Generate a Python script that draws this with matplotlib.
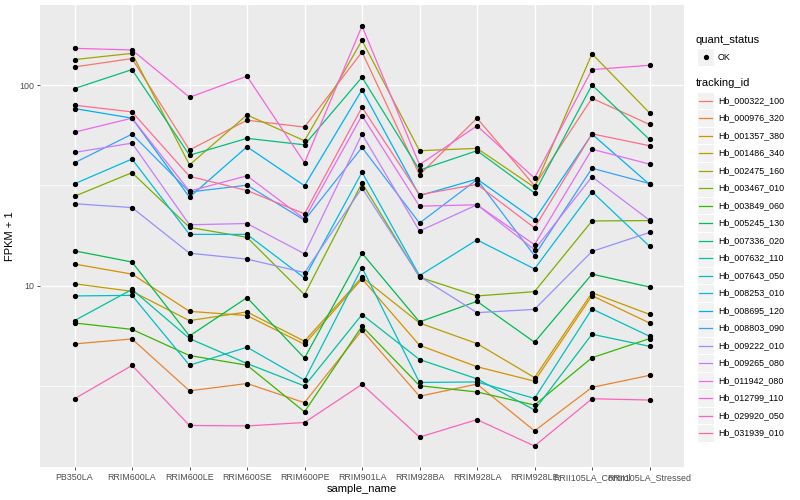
import numpy as np
import matplotlib
matplotlib.use('Agg')
import matplotlib.pyplot as plt
from matplotlib.lines import Line2D
from matplotlib.patches import Rectangle
from matplotlib.ticker import FixedLocator, NullFormatter

plt.rcParams['font.family'] = ['Liberation Sans', 'DejaVu Sans']

# ---- data (FPKM + 1) ----
samples = ['PB350LA', 'RRIM600LA', 'RRIM600LE', 'RRIM600SE', 'RRIM600PE', 'RRIM901LA',
           'RRIM928BA', 'RRIM928LA', 'RRIM928LE', 'RRII105LA_Control', 'RRII105LA_Stressed']

tracking_ids = ['Hb_000322_100', 'Hb_000976_320', 'Hb_001357_380', 'Hb_001486_340',
                'Hb_002475_160', 'Hb_003467_010', 'Hb_003849_060', 'Hb_005245_130',
                'Hb_007336_020', 'Hb_007632_110', 'Hb_007643_050', 'Hb_008253_010',
                'Hb_008695_120', 'Hb_008803_090', 'Hb_009222_010', 'Hb_009265_080',
                'Hb_011942_080', 'Hb_012799_110', 'Hb_029920_050', 'Hb_031939_010']

# ggplot default hue palette for 20 levels
palette = ['#F8766D', '#EA8331', '#D89000', '#C09B00', '#A3A500', '#7CAE00', '#39B600',
           '#00BB4E', '#00BF7D', '#00C1A3', '#00BFC4', '#00BAE0', '#00B0F6', '#35A2FF',
           '#9590FF', '#C77CFF', '#E76BF3', '#FA62DB', '#FF62BC', '#FF6C91']

Hb_000322_100 = [123.4, 135.9, 47.5, 66.9, 61.8, 146.5, 35.7, 68.5, 31.5, 86.1, 63.7]
Hb_000976_320 = [5.11, 5.41, 2.98, 3.24, 2.60, 5.98, 2.80, 3.22, 1.88, 3.10, 3.56]
Hb_001357_380 = [12.8, 11.4, 7.43, 7.08, 5.09, 10.8, 5.03, 3.93, 3.33, 8.9, 6.5]
Hb_001486_340 = [10.2, 9.35, 6.68, 7.38, 5.27, 11.0, 6.5, 5.13, 3.47, 9.2, 7.18]
Hb_002475_160 = [134.3, 144.3, 40.0, 71.1, 52.8, 167.5, 47.1, 48.4, 30.9, 143.6, 72.8]
Hb_003467_010 = [27.9, 36.6, 19.5, 17.4, 9.0, 32.5, 11.0, 8.87, 9.32, 21.0, 21.1]
Hb_003849_060 = [6.5, 6.04, 4.47, 4.0, 2.34, 6.26, 3.16, 2.94, 2.53, 4.36, 5.43]
Hb_005245_130 = [14.9, 13.1, 5.6, 8.70, 4.34, 14.5, 6.58, 8.34, 5.21, 11.4, 9.83]
Hb_007336_020 = [96.3, 119.7, 44.7, 54.3, 50.4, 109.6, 37.7, 47.1, 29.0, 100.3, 53.6]
Hb_007632_110 = [6.68, 9.56, 5.43, 4.08, 3.15, 7.16, 4.27, 3.42, 2.39, 5.71, 4.97]
Hb_007643_050 = [8.87, 8.93, 4.0, 4.92, 3.37, 12.3, 3.28, 3.3, 2.73, 7.64, 5.58]
Hb_008253_010 = [32.2, 42.8, 18.0, 18.0, 10.9, 36.8, 11.2, 16.9, 12.1, 29.4, 15.7]
Hb_008695_120 = [76.5, 68.5, 27.6, 49.3, 31.5, 94.9, 28.1, 34.0, 21.3, 57.0, 32.0]
Hb_008803_090 = [41.0, 57.0, 29.3, 31.7, 21.2, 48.9, 20.5, 33.8, 14.1, 38.5, 32.3]
Hb_009222_010 = [25.6, 24.5, 14.5, 13.55, 11.6, 30.7, 11.1, 7.32, 7.60, 14.8, 18.4]
Hb_009265_080 = [46.2, 51.4, 20.1, 20.4, 14.4, 57.0, 18.7, 25.3, 15.1, 34.9, 21.2]
Hb_011942_080 = [58.3, 68.5, 29.6, 35.3, 21.5, 70.6, 24.9, 25.3, 16.0, 47.9, 40.4]
Hb_012799_110 = [152.8, 150.0, 87.1, 110.9, 41.0, 197.6, 40.1, 62.7, 34.4, 119.7, 125.8]
Hb_029920_050 = [2.72, 3.99, 2.0, 1.99, 2.07, 3.21, 1.75, 2.14, 1.58, 2.72, 2.68]
Hb_031939_010 = [79.5, 73.6, 35.1, 29.8, 22.8, 77.6, 28.4, 32.0, 19.4, 57.2, 49.9]

series = [Hb_000322_100, Hb_000976_320, Hb_001357_380, Hb_001486_340, Hb_002475_160,
          Hb_003467_010, Hb_003849_060, Hb_005245_130, Hb_007336_020, Hb_007632_110,
          Hb_007643_050, Hb_008253_010, Hb_008695_120, Hb_008803_090, Hb_009222_010,
          Hb_009265_080, Hb_011942_080, Hb_012799_110, Hb_029920_050, Hb_031939_010]

# ---- figure ----
W, H = 800, 500
fig = plt.figure(figsize=(8, 5), dpi=100)
fig.set_facecolor('white')
ax = fig.add_axes([40 / W, 1 - 467 / H, (684 - 40) / W, (467 - 5) / H])
ax.set_facecolor('#EBEBEB')

x = np.arange(len(samples))
for k, vals in enumerate(series):
    ax.plot(x, vals, color=palette[k], linewidth=0.9, zorder=2 + k * 0.01)
for vals in series:
    ax.plot(x, vals, linestyle='none', marker='o', markersize=2.8,
            color='black', zorder=3)

ax.set_yscale('log')
allv = np.concatenate([np.array(s) for s in series])
lo, hi = np.log10(allv.min()), np.log10(allv.max())
pad = (hi - lo) * 0.05
ax.set_ylim(10 ** (lo - pad), 10 ** (hi + pad))
ax.set_xlim(-0.6, len(samples) - 1 + 0.6)

ax.yaxis.set_major_locator(FixedLocator([10, 100]))
ax.yaxis.set_minor_locator(FixedLocator([10 ** 0.5, 10 ** 1.5]))
ax.yaxis.set_minor_formatter(NullFormatter())
ax.set_yticklabels(['10', '100'])
ax.set_xticks(x)
ax.set_xticklabels(samples)

ax.grid(True, which='major', color='white', linewidth=1.0)
ax.grid(True, which='minor', axis='y', color='white', linewidth=0.5)
ax.set_axisbelow(True)
for sp in ax.spines.values():
    sp.set_visible(False)

ax.tick_params(axis='both', which='major', labelsize=6.4, colors='#333333',
               labelcolor='#4D4D4D', length=2.5, width=0.6, pad=1.8)
ax.tick_params(axis='y', which='minor', length=0)

ax.set_xlabel('sample_name', fontsize=8, labelpad=1.5)
ax.set_ylabel('FPKM + 1', fontsize=8, labelpad=3)

# ---- legend (ggplot style, drawn by hand) ----
def fx(px):
    return px / W

def fy(py):
    return 1 - py / H

fig.text(fx(696), fy(40), 'quant_status', fontsize=8, ha='left', va='center')
fig.add_artist(Rectangle((fx(697), fy(65.5)), 17 / W, 17 / H, transform=fig.transFigure,
                         facecolor='#F2F2F2', edgecolor='white', linewidth=0.8))
fig.add_artist(Line2D([fx(705.5)], [fy(57)], marker='o', markersize=2.8, color='black',
                      transform=fig.transFigure))
fig.text(fx(718), fy(57), 'OK', fontsize=6.4, ha='left', va='center')

fig.text(fx(696), fy(83), 'tracking_id', fontsize=8, ha='left', va='center')
step = 17.5
for k, tid in enumerate(tracking_ids):
    cy = 100.5 + k * step
    fig.add_artist(Rectangle((fx(697), fy(cy + 8.7)), 17 / W, step / H,
                             transform=fig.transFigure, facecolor='#F2F2F2',
                             edgecolor='white', linewidth=0.8))
    fig.add_artist(Line2D([fx(699), fx(712)], [fy(cy), fy(cy)], color=palette[k],
                          linewidth=0.9, transform=fig.transFigure))
    fig.text(fx(718), fy(cy), tid, fontsize=6.4, ha='left', va='center')

fig.savefig('out.png', dpi=100, facecolor='white')
